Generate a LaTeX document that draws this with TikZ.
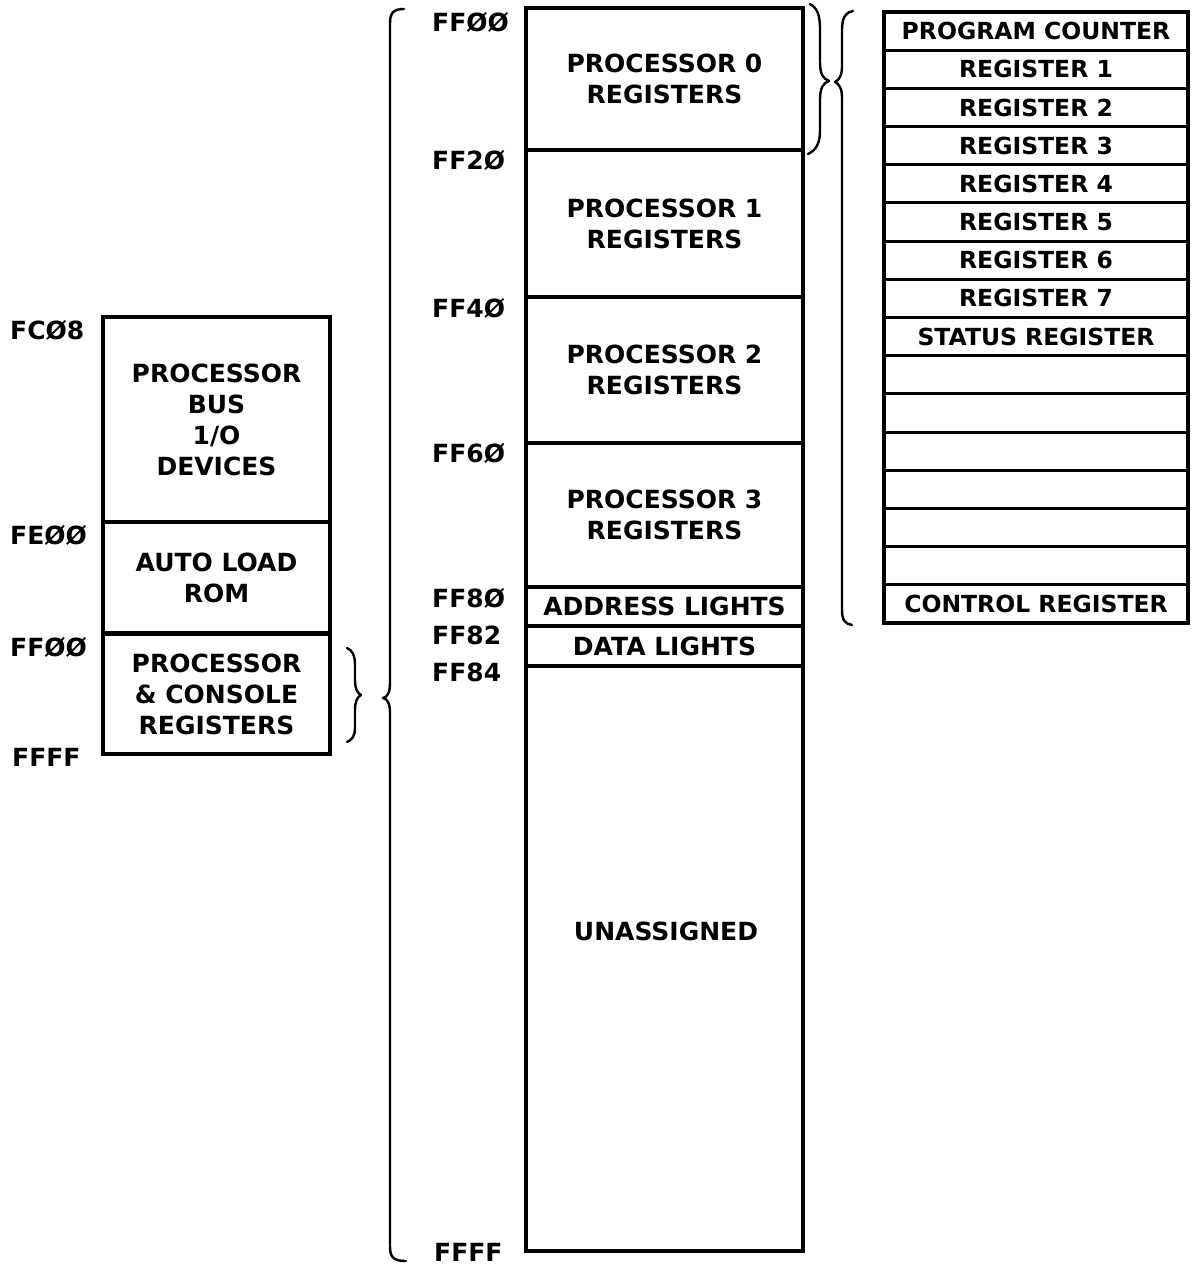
\documentclass[tikz,border=0pt]{standalone}
\usepackage{fontspec}
\setmainfont{DejaVu Sans}
\begin{document}
\begin{tikzpicture}[x=1pt,y=-1pt,
  cell/.style={draw, line width=4pt, outer sep=0pt, inner sep=0pt, align=center,
    font=\fontsize{25}{31}\selectfont\bfseries},
  reg/.style={draw, line width=3pt, outer sep=0pt, inner sep=0pt,
    minimum width=304, minimum height=38.19, font=\fontsize{23.5}{27}\selectfont\bfseries},
  txt/.style={inner sep=0pt, align=center, font=\fontsize{25}{31}\selectfont\bfseries},
  addr/.style={inner sep=0pt, anchor=west, font=\fontsize{25}{30}\selectfont\bfseries},
  brace/.style={line width=2.4pt, line cap=round, line join=round}]
\useasboundingbox (0,0) rectangle (1200,1265);

% ---------- left column ----------
\node[cell, minimum width=227, minimum height=205] (io)  at (216.5,419.5) {PROCESSOR\\BUS\\1/O\\DEVICES};
\node[cell, minimum width=227, minimum height=111] (rom) at (216.5,577.5) {AUTO LOAD\\ROM};
\node[cell, minimum width=227, minimum height=120] (pcr) at (216.5,694) {PROCESSOR\\\& CONSOLE\\REGISTERS};

\node[addr] (aFC08) at (10,330) {FCØ8};
\node[addr] (aFE00) at (10,535) {FEØØ};
\node[addr] (aFF00l) at (10,647) {FFØØ};
\node[addr] (aFFFFl) at (12,757) {FFFF};

% ---------- middle column ----------
\node[cell, minimum width=277, minimum height=142] (p0) at (664.5,79) {PROCESSOR 0\\REGISTERS};
\node[cell, minimum width=277, minimum height=147] (p1) at (664.5,223.5) {PROCESSOR 1\\REGISTERS};
\node[cell, minimum width=277, minimum height=146] (p2) at (664.5,370) {PROCESSOR 2\\REGISTERS};
\node[cell, minimum width=277, minimum height=144] (p3) at (664.5,515) {PROCESSOR 3\\REGISTERS};
\node[cell, minimum width=277, minimum height=39] (al) at (664.5,606.5) {ADDRESS LIGHTS};
\node[cell, minimum width=277, minimum height=40] (dl) at (664.5,646) {DATA LIGHTS};
\node[cell, minimum width=277, minimum height=585] (un) at (664.5,958.5) {};
\node[txt] (untxt) at (666,931) {UNASSIGNED};

\node[addr] (mFF00) at (432,22) {FFØØ};
\node[addr] (mFF20) at (432,160) {FF2Ø};
\node[addr] (mFF40) at (432,308) {FF4Ø};
\node[addr] (mFF60) at (432,453) {FF6Ø};
\node[addr] (mFF80) at (432,598) {FF8Ø};
\node[addr] (mFF82) at (432,635) {FF82};
\node[addr] (mFF84) at (432,672) {FF84};
\node[addr] (mFFFF) at (434,1252) {FFFF};

% ---------- right table ----------
\foreach \t [count=\i from 0] in {PROGRAM COUNTER, REGISTER 1, REGISTER 2, REGISTER 3,
    REGISTER 4, REGISTER 5, REGISTER 6, REGISTER 7, STATUS REGISTER, {}, {}, {}, {}, {}, {},
    CONTROL REGISTER} {
  \pgfmathsetmacro{\yy}{12+38.19*(\i+0.5)}
  \node[reg] (r\i) at (1036,\yy) {\t};
}
\draw[line width=3.6pt] (r0.north west) rectangle (r15.south east);

% ---------- braces ----------
\draw[brace] (404,9) .. controls (393,9) and (390,13) .. (390,24) -- (390,682)
  .. controls (390,692) and (388,697) .. (383,698)
  .. controls (388,699) and (390,704) .. (390,714) -- (390,1246)
  .. controls (390,1257) and (393,1261) .. (406,1261);

\draw[brace] (810,4) .. controls (817,8) and (820,14) .. (820,30) -- (820,62)
  .. controls (820,74) and (823,79) .. (829,81)
  .. controls (823,83) and (820,88) .. (820,100) -- (820,130)
  .. controls (820,144) and (816,150) .. (808,154);

\draw[brace] (853,11) .. controls (846,12) and (842,17) .. (842,30) -- (842,66)
  .. controls (842,76) and (839,80) .. (835,82)
  .. controls (839,84) and (842,88) .. (842,98) -- (842,610)
  .. controls (842,620) and (845,624) .. (852,625);

\draw[brace] (347,648) .. controls (352,650) and (355,655) .. (355,665) -- (355,680)
  .. controls (355,688) and (357,693) .. (361,695)
  .. controls (357,697) and (355,702) .. (355,710) -- (355,728)
  .. controls (355,736) and (352,740) .. (347,742);
\end{tikzpicture}
\end{document}
